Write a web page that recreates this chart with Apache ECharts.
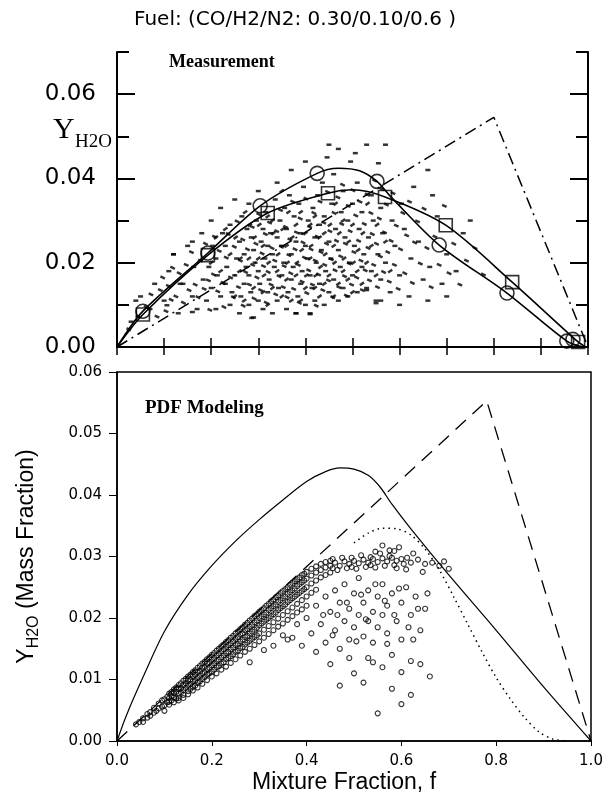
<!DOCTYPE html>
<html><head><meta charset="utf-8">
<script src="https://cdn.jsdelivr.net/npm/echarts@6/dist/echarts.min.js"></script>
<style>html,body{margin:0;padding:0;background:#fff}#c{width:607px;height:797px}</style>
</head><body><div id="c"></div>
<script>
// ---------- text ----------
const chartTitle = 'Fuel: (CO/H2/N2: 0.30/0.10/0.6 )';
const topPanelLabel = 'Measurement';
const bottomPanelLabel = 'PDF Modeling';
const xAxisTitle = 'Mixture Fraction, f';

// ---------- ticks ----------
const topYMajor = [0, 0.02, 0.04, 0.06];
const topYMinor = [0.01, 0.03, 0.05, 0.07];

// ---------- top panel (Measurement) ----------
const mixLineTop = [[0, 0], [0.8, 0.0545], [1.0, 0]];
const circleMarkers = [[0.055,0.0085],[0.193,0.0223],[0.304,0.0335],[0.425,0.0412],[0.552,0.0393],[0.684,0.0242],[0.828,0.0128],[0.955,0.0014],[0.968,0.0018]];
const squareMarkers = [[0.055,0.0077],[0.193,0.0218],[0.32,0.0318],[0.448,0.0365],[0.569,0.0356],[0.698,0.0289],[0.839,0.0154],[0.979,0.0012]];
const circleCurve = [[0,0],[0.055,0.0085],[0.193,0.0223],[0.304,0.0335],[0.425,0.0412],[0.47,0.0424],[0.515,0.0418],[0.552,0.0393],[0.58,0.0358],[0.684,0.0242],[0.828,0.0128],[0.955,0.0014],[0.99,0]];
const squareCurve = [[0,0],[0.055,0.0077],[0.193,0.0218],[0.32,0.0318],[0.448,0.0365],[0.5,0.0373],[0.569,0.0356],[0.698,0.0289],[0.839,0.0154],[0.979,0.0012],[0.995,0]];
const measDots = [
[0.03,0.006],[0.05,0.012],[0.07,0.009],[0.08,0.015],[0.1,0.011],[0.11,0.018],[0.12,0.022],[0.13,0.008],[0.14,0.015],[0.15,0.024],[0.16,0.012],[0.163,0.019],[0.17,0.009],[0.18,0.027],[0.183,0.016],
[0.19,0.011],[0.195,0.019],[0.2,0.014],[0.203,0.024],[0.2,0.03],[0.21,0.009],[0.213,0.017],[0.21,0.021],[0.22,0.012],[0.224,0.027],[0.22,0.033],[0.23,0.015],[0.233,0.019],[0.23,0.024],[0.24,0.01],[0.244,0.013],[0.24,0.029],[0.25,0.017],[0.254,0.021],[0.25,0.035],
[0.26,0.008],[0.263,0.012],[0.26,0.025],[0.265,0.031],[0.27,0.015],[0.274,0.019],[0.27,0.022],[0.276,0.028],[0.28,0.01],[0.284,0.013],[0.28,0.017],[0.285,0.026],[0.28,0.034],[0.29,0.007],[0.293,0.02],[0.29,0.023],[0.296,0.03],[0.3,0.011],[0.303,0.015],[0.3,0.018],[0.306,0.025],[0.3,0.037],[0.31,0.009],[0.314,0.021],[0.31,0.028],[0.316,0.032],[0.32,0.013],[0.323,0.016],[0.32,0.024],[0.326,0.027],
[0.33,0.008],[0.334,0.019],[0.33,0.022],[0.336,0.035],[0.34,0.011],[0.343,0.014],[0.34,0.026],[0.346,0.03],[0.34,0.039],[0.35,0.017],[0.354,0.02],[0.35,0.024],[0.356,0.033],[0.36,0.009],[0.363,0.013],[0.36,0.028],[0.366,0.036],[0.37,0.016],[0.374,0.019],[0.37,0.022],[0.376,0.031],[0.37,0.042],[0.38,0.008],[0.384,0.012],[0.38,0.025],[0.386,0.034],[0.39,0.015],[0.393,0.018],[0.39,0.027],[0.396,0.038],[0.4,0.01],[0.404,0.021],[0.4,0.024],[0.406,0.03],[0.4,0.044],
[0.41,0.008],[0.414,0.014],[0.41,0.017],[0.416,0.033],[0.42,0.011],[0.423,0.02],[0.42,0.026],[0.426,0.036],[0.43,0.015],[0.434,0.023],[0.43,0.029],[0.436,0.039],[0.44,0.01],[0.443,0.018],[0.44,0.031],[0.446,0.045],[0.45,0.013],[0.454,0.021],[0.45,0.025],[0.456,0.034],[0.45,0.048],[0.46,0.016],[0.464,0.028],[0.46,0.041],[0.47,0.011],[0.474,0.019],[0.47,0.023],[0.476,0.032],[0.47,0.047],[0.48,0.014],[0.484,0.026],[0.48,0.037],
[0.49,0.012],[0.494,0.02],[0.49,0.03],[0.496,0.044],[0.5,0.017],[0.504,0.024],[0.5,0.034],[0.506,0.046],[0.51,0.013],[0.514,0.028],[0.51,0.039],[0.52,0.019],[0.524,0.022],[0.52,0.032],[0.53,0.014],[0.534,0.026],[0.53,0.048],[0.54,0.018],[0.544,0.03],[0.54,0.036],[0.55,0.011],[0.554,0.022],[0.555,0.0436],[0.56,0.016],[0.564,0.027],[0.56,0.033],
[0.57,0.02],[0.57,0.048],[0.58,0.013],[0.584,0.03],[0.59,0.024],[0.6,0.017],[0.604,0.034],[0.61,0.028],[0.62,0.012],[0.624,0.021],[0.63,0.038],[0.64,0.025],[0.65,0.016],[0.66,0.011],[0.664,0.019],[0.66,0.042],[0.67,0.036],[0.68,0.031],[0.69,0.015],[0.7,0.022],[0.72,0.018],[0.735,0.027],[0.75,0.03],[0.6,0.01],[0.7,0.012],[0.04,0.011],[0.12,0.022],[0.134,0.015],[0.16,0.025],[0.106,0.0099],[0.16,0.0083],[0.286,0.0069],[0.38,0.008],[0.55,0.0104],[0.41,0.0078],[0.53,0.0135],[0.56,0.011]
];
const measDotsDense = [
[0.2,0.02],[0.21,0.026],[0.22,0.018],[0.23,0.028],[0.24,0.022],[0.25,0.012],[0.252,0.026],[0.26,0.018],[0.262,0.021],[0.27,0.011],[0.272,0.032],[0.28,0.021],[0.282,0.029],[0.29,0.014],[0.292,0.026],[0.3,0.021],[0.302,0.029],[0.31,0.013],[0.312,0.017],[0.31,0.024],[0.32,0.01],[0.322,0.02],[0.32,0.031],[0.33,0.014],[0.332,0.027],[0.33,0.03],[0.34,0.018],[0.342,0.022],[0.35,0.012],[0.352,0.028],[0.35,0.037],[0.36,0.016],[0.362,0.02],[0.36,0.024],[0.364,0.032],[0.37,0.011],[0.372,0.026],[0.38,0.017],[0.382,0.02],[0.38,0.029],[0.39,0.011],[0.392,0.023],[0.39,0.032],[0.4,0.014],[0.402,0.017],[0.4,0.027],[0.41,0.021],[0.412,0.024],[0.41,0.029],[0.42,0.014],[0.422,0.017],[0.42,0.031],[0.43,0.012],[0.432,0.019],[0.43,0.026],[0.44,0.015],[0.442,0.022],[0.44,0.027],[0.45,0.017],[0.452,0.029],[0.46,0.012],[0.462,0.02],[0.46,0.024],[0.464,0.034],[0.47,0.015],[0.472,0.027],[0.48,0.018],[0.482,0.021],[0.48,0.03],[0.49,0.016],[0.492,0.025],[0.5,0.013],[0.502,0.02],[0.5,0.029],[0.51,0.018],[0.512,0.023],[0.52,0.015],[0.522,0.027],[0.53,0.02],[0.532,0.034],[0.54,0.024],[0.55,0.017],[0.552,0.029],[0.57,0.025],[0.58,0.018]
];
const measDotsCore = [
[0.125,0.012],[0.132,0.0175],[0.141,0.0105],[0.147,0.0195],[0.153,0.0135],[0.158,0.0225],[0.166,0.0148],[0.172,0.0118],[0.177,0.0205],[0.185,0.0138],[0.188,0.0245],[0.194,0.0158],[0.197,0.0088],[0.205,0.0172],[0.207,0.0262],[0.214,0.0132],[0.217,0.0228],[0.225,0.0152],[0.227,0.0095],[0.232,0.0212],[0.236,0.0268],[0.241,0.0165],[0.247,0.0118],[0.249,0.0238],[0.255,0.0298],[0.258,0.0142],[0.262,0.0205],[0.267,0.0255],[0.268,0.0098],[0.273,0.0178],[0.277,0.0232],[0.281,0.0148],[0.287,0.0285],[0.288,0.0195],[0.291,0.0115],[0.295,0.0245],[0.297,0.0165],[0.301,0.0315],[0.305,0.0135],[0.308,0.0222],[0.311,0.0192],[0.315,0.0268],[0.317,0.0105],[0.321,0.0178],[0.324,0.0295],[0.327,0.0148],[0.329,0.0235],[0.335,0.0205],[0.337,0.0125],[0.339,0.0275],[0.344,0.0168],[0.347,0.0325],[0.349,0.0238],[0.353,0.0142],[0.355,0.0192],[0.358,0.0285],[0.361,0.0118],[0.365,0.0218],[0.367,0.0255],[0.369,0.0175],[0.373,0.0345],[0.375,0.0138],[0.378,0.0232],[0.381,0.0272],[0.385,0.0195],[0.387,0.0105],[0.389,0.0305],[0.393,0.0155],[0.395,0.0248],[0.398,0.0212],[0.401,0.0352],[0.403,0.0128],[0.407,0.0182],[0.409,0.0285],[0.412,0.0232],[0.415,0.0148],[0.418,0.0318],[0.421,0.0205],[0.423,0.0098],[0.425,0.0262],[0.428,0.0172],[0.431,0.0345],[0.433,0.0225],[0.437,0.0135],[0.439,0.0295],[0.441,0.0195],[0.445,0.0245],[0.447,0.0368],[0.449,0.0158],[0.452,0.0275],[0.455,0.0208],[0.458,0.0118],[0.461,0.0318],[0.463,0.0182],[0.466,0.0252],[0.469,0.0355],[0.471,0.0142],[0.475,0.0215],[0.477,0.0292],[0.479,0.0385],[0.483,0.0168],[0.485,0.0245],[0.487,0.0122],[0.491,0.0335],[0.493,0.0198],[0.495,0.0275],[0.498,0.0148],[0.501,0.0372],[0.503,0.0225],[0.507,0.0312],[0.509,0.0165],[0.513,0.0252],[0.516,0.0345],[0.518,0.0205],[0.521,0.0135],[0.525,0.0292],[0.527,0.0182],[0.531,0.0362],[0.533,0.0235],[0.536,0.0158],[0.539,0.0318],[0.542,0.0268],[0.545,0.0195],[0.547,0.0395],[0.551,0.0245],[0.553,0.0142],[0.557,0.0305],[0.559,0.0215],[0.562,0.0375],[0.566,0.0178],[0.568,0.0272],[0.572,0.0338],[0.575,0.0225],[0.578,0.0155],[0.582,0.0252],[0.586,0.0365],[0.589,0.0195],[0.593,0.0288],[0.597,0.0138],[0.602,0.0232],[0.607,0.0318],[0.611,0.0175],[0.615,0.0265],[0.621,0.0345],[0.627,0.0152],[0.632,0.0248],[0.638,0.0298],[0.644,0.0198],[0.652,0.0328],[0.658,0.0235],[0.667,0.0142],[0.675,0.0262],[0.684,0.0195],[0.695,0.0335],[0.705,0.0175],[0.715,0.0245],[0.728,0.0148],[0.742,0.0205],[0.76,0.0235],[0.778,0.0172],
[0.085,0.0072],[0.092,0.0135],[0.097,0.0165],[0.104,0.0085],[0.109,0.0145],[0.115,0.0112],[0.118,0.0188],[0.062,0.0095],[0.072,0.0125],[0.045,0.0072],[0.025,0.0042]
];

// ---------- bottom panel (PDF Modeling) ----------
const mixLineBottom = [[0, 0], [0.78, 0.0553], [1.0, 0]];
const equilCurve = [[0,0],[0.02,0.0042],[0.055,0.0104],[0.1,0.0178],[0.15,0.0238],[0.2,0.0285],[0.25,0.0325],[0.3,0.036],[0.35,0.0392],[0.4,0.0422],[0.44,0.0438],[0.47,0.0444],[0.5,0.0442],[0.53,0.0432],[0.555,0.0413],[0.58,0.0385],[0.62,0.0345],[0.7,0.027],[0.8,0.018],[0.9,0.0088],[1.0,0]];
const dottedCurve = [[0.5,0.0322],[0.53,0.0338],[0.56,0.0346],[0.59,0.0345],[0.62,0.0335],[0.65,0.0312],[0.68,0.0278],[0.71,0.0235],[0.74,0.019],[0.77,0.0145],[0.8,0.0103],[0.83,0.0068],[0.86,0.0038],[0.89,0.0015],[0.92,0.0003],[0.95,0]];
// band of PDF samples just below the mixing line: [x, [y values at that x]]
const pdfBand = [
[0.04,[.0027]],[0.047,[.0031]],[0.055,[.0037,.0031]],[0.064,[.0044,.0038]],[0.07,[.0047,.0041]],[0.078,[.0054,.0046]],[0.083,[.0049]],[0.088,[.0061,.0053]],[0.095,[.0066,.0056]],[0.1,[.0068,.0058,.0049]],[0.106,[.0072,.0063]],
[0.11,[.0077,.0070,.0064,.0059]],[0.115,[.0080,.0073,.0066]],[0.12,[.0084,.0078,.0071,.0063]],[0.125,[.0087,.0080,.0069]],[0.13,[.0091,.0085,.0077,.0070,.0066]],[0.135,[.0094,.0086,.0079]],[0.14,[.0098,.0091,.0083,.0075,.0070]],[0.145,[.0101,.0094,.0086]],[0.15,[.0105,.0098,.0090,.0081,.0076]],[0.155,[.0108,.0100,.0093,.0085]],[0.16,[.0112,.0105,.0097,.0088,.0082]],[0.165,[.0115,.0108,.0099,.0090]],[0.17,[.0119,.0112,.0103,.0095,.0087]],[0.175,[.0122,.0114,.0106,.0097]],[0.18,[.0126,.0119,.0110,.0101,.0093]],[0.185,[.0129,.0121,.0112,.0104]],[0.19,[.0133,.0126,.0117,.0108,.0099]],[0.195,[.0136,.0128,.0119,.0110]],
[0.2,[.0140,.0132,.0123,.0113,.0105]],[0.205,[.0143,.0135,.0126,.0116]],[0.21,[.0147,.0139,.0130,.0120,.0110]],[0.215,[.0150,.0142,.0132,.0122]],[0.22,[.0154,.0146,.0136,.0126,.0116]],[0.225,[.0157,.0149,.0139,.0128]],[0.23,[.0161,.0153,.0143,.0133,.0121]],[0.235,[.0164,.0156,.0145,.0135]],[0.24,[.0168,.0159,.0149,.0138,.0127]],[0.245,[.0171,.0162,.0152,.0141]],[0.25,[.0175,.0166,.0156,.0145,.0133]],[0.255,[.0178,.0169,.0158,.0147]],[0.26,[.0182,.0173,.0162,.0151,.0139]],[0.265,[.0185,.0175,.0165,.0153]],[0.27,[.0189,.0180,.0169,.0157,.0145]],[0.275,[.0192,.0182,.0171,.0160]],[0.28,[.0196,.0186,.0175,.0163,.0150]],[0.285,[.0199,.0189,.0178,.0166]],[0.29,[.0203,.0193,.0181,.0169,.0156]],[0.295,[.0206,.0196,.0184,.0172]],
[0.3,[.0210,.0200,.0188,.0175,.0162]],[0.305,[.0213,.0203,.0191]],[0.31,[.0216,.0206,.0194,.0181,.0168]],[0.315,[.0220,.0209,.0197]],[0.32,[.0223,.0213,.0200,.0187,.0174]],[0.325,[.0227,.0216,.0203]],[0.33,[.0230,.0219,.0206,.0193,.0180]],[0.335,[.0234,.0222,.0209]],[0.34,[.0237,.0226,.0213,.0199,.0186]],[0.345,[.0241,.0229,.0216]],[0.35,[.0244,.0232,.0219,.0205,.0191]],[0.355,[.0247,.0235,.0222]],[0.36,[.0250,.0239,.0226,.0211,.0197]],[0.365,[.0254,.0242,.0229]],[0.37,[.0257,.0245,.0232,.0217,.0203]],[0.375,[.0260,.0248,.0235]],[0.38,[.0263,.0252,.0238,.0223,.0209]],[0.385,[.0266,.0255,.0241]],[0.39,[.0270,.0258,.0244,.0229,.0214]],[0.395,[.0272,.0261,.0247]],
[0.4,[.0275,.0264,.0250,.0235,.0220]],[0.41,[.0280,.0269,.0256,.0241]],[0.42,[.0284,.0274,.0261,.0246]],[0.43,[.0288,.0278,.0266]],[0.44,[.0291,.0282,.0270]],[0.45,[.0293,.0285,.0274]]
];
const pdfPlateau = [
[0.46,0.029],[0.47,0.0285],[0.48,0.0292],[0.49,0.0288],[0.5,0.0293],[0.51,0.0289],[0.52,0.0295],[0.53,0.029],[0.54,0.0296],[0.55,0.0291],[0.56,0.0297],[0.57,0.0292],[0.58,0.0298],[0.59,0.0293],[0.6,0.0296],[0.465,0.0278],[0.485,0.0281],[0.505,0.028],[0.525,0.0283],[0.545,0.0282],[0.565,0.0285],[0.585,0.0286],[0.605,0.0288],[0.475,0.0298],[0.515,0.0302],[0.555,0.0305],[0.575,0.031],[0.595,0.0315],[0.56,0.0318],[0.62,0.029],[0.635,0.0295],[0.65,0.0288],[0.665,0.029],[0.68,0.0285],[0.625,0.0305],[0.645,0.0275],[0.69,0.0292],[0.7,0.028],
[0.455,0.0296],[0.495,0.0298],[0.535,0.0299],[0.575,0.0301],[0.455,0.0281],[0.495,0.0283],[0.535,0.0286],[0.59,0.0281],[0.612,0.0298],[0.61,0.0279],[0.545,0.0308],[0.585,0.0309]
];
const pdfScatterLow = [
[0.36,0.0165],[0.38,0.019],[0.39,0.0155],[0.4,0.02],[0.41,0.0175],[0.42,0.022],[0.42,0.0145],[0.43,0.019],[0.44,0.0235],[0.44,0.016],[0.45,0.021],[0.45,0.0125],[0.46,0.0245],[0.46,0.018],[0.47,0.015],[0.47,0.0225],[0.48,0.0195],[0.48,0.0255],[0.49,0.0165],[0.49,0.0215],[0.5,0.024],[0.5,0.0185],[0.5,0.011],[0.51,0.0205],[0.51,0.0265],[0.52,0.017],[0.52,0.0225],[0.53,0.0195],[0.53,0.0245],[0.53,0.0135],[0.54,0.021],[0.54,0.016],[0.55,0.0235],[0.55,0.0185],[0.56,0.0205],[0.56,0.0255],[0.57,0.0175],[0.57,0.022],[0.58,0.024],[0.58,0.014],[0.59,0.0195],[0.6,0.0225],[0.6,0.0165],[0.61,0.025],[0.62,0.0205],[0.62,0.013],[0.63,0.0235],[0.64,0.018],[0.65,0.0215],[0.66,0.0105],[0.6,0.006],[0.55,0.0045],[0.58,0.0085],[0.62,0.0075],[0.64,0.0125],[0.47,0.009],[0.52,0.0095],[0.56,0.012],
[0.435,0.0205],[0.455,0.0172],[0.465,0.0205],[0.485,0.0225],[0.505,0.0162],[0.515,0.0238],[0.525,0.0198],[0.545,0.0255],[0.565,0.0228],[0.585,0.0205],[0.595,0.0248],[0.615,0.0185],[0.635,0.0215],[0.655,0.024],[0.49,0.0135],[0.54,0.0128],[0.57,0.0158],[0.6,0.0112],[0.625,0.0165],[0.33,0.0155],[0.35,0.0172],[0.37,0.0168],[0.28,0.0128],[0.31,0.0148]
];
const pdfPoints = [];
pdfBand.forEach(([x, ys]) => ys.forEach(y => pdfPoints.push([x, y])));

// ---------- chart ----------
const K = '#000';
const noSplit = { show: false };
const chart = echarts.init(document.getElementById('c'), null, { renderer: 'canvas' });
const dotSeries = (data, size, rot) => ({ type: 'scatter', xAxisIndex: 0, yAxisIndex: 0, data, symbol: 'rect', symbolSize: size, symbolRotate: rot, itemStyle: { color: K }, silent: true, z: 1 });
const pdfSeries = data => ({ type: 'scatter', xAxisIndex: 1, yAxisIndex: 2, data, symbol: 'circle', symbolSize: 5, itemStyle: { color: 'rgba(0,0,0,0)', borderColor: K, borderWidth: 1.1 }, silent: true, z: 1 });
const option = {
  animation: false,
  backgroundColor: '#fff',
  textStyle: { fontFamily: 'DejaVu Sans', color: K },
  grid: [
    { left: 117, top: 52, width: 471, height: 295, outerBoundsMode: 'none' },
    { left: 117, top: 372, width: 474, height: 369, outerBoundsMode: 'none', show: true, borderColor: K, borderWidth: 1.5, backgroundColor: 'transparent' },
    { left: 117, top: 52, width: 471, height: 295, outerBoundsMode: 'none' }
  ],
  xAxis: [
    { gridIndex: 0, type: 'value', min: 0, max: 1, interval: 0.1,
      axisLine: { show: true, onZero: false, lineStyle: { color: K, width: 2 } },
      axisTick: { show: true, inside: true, length: 9, lineStyle: { color: K, width: 1.5 } },
      axisLabel: { show: false }, splitLine: noSplit },
    { gridIndex: 1, type: 'value', min: 0, max: 1, interval: 0.2,
      axisLine: { show: true, onZero: false, lineStyle: { color: K, width: 1.5 } },
      axisTick: { show: true, length: 5, lineStyle: { color: K, width: 1 } },
      axisLabel: { margin: 13, fontFamily: 'DejaVu Sans', fontSize: 15, color: K, formatter: v => v.toFixed(1) },
      name: xAxisTitle, nameLocation: 'middle', nameGap: 30,
      nameTextStyle: { fontFamily: 'Liberation Sans', fontSize: 23, color: K, padding: [0, 20, 0, 0] },
      splitLine: noSplit },
    { gridIndex: 2, type: 'value', min: 0, max: 1, interval: 0.1,
      axisLine: { show: false, onZero: false },
      axisTick: { show: true, inside: false, length: 8, lineStyle: { color: K, width: 1.5 } },
      axisLabel: { show: false }, splitLine: noSplit }
  ],
  yAxis: [
    { gridIndex: 0, type: 'value', position: 'left', min: 0, max: 0.07, interval: 0.01,
      axisLine: { show: true, onZero: false, lineStyle: { color: K, width: 2 } },
      axisTick: { show: true, inside: true, length: 18, customValues: topYMajor, lineStyle: { color: K, width: 2 } },
      axisLabel: { customValues: topYMajor, margin: 21, fontFamily: 'DejaVu Sans', fontSize: 23, color: K, formatter: v => v.toFixed(2) },
      splitLine: noSplit },
    { gridIndex: 0, type: 'value', position: 'right', min: 0, max: 0.07, interval: 0.01,
      axisLine: { show: true, onZero: false, lineStyle: { color: K, width: 2 } },
      axisTick: { show: true, inside: true, length: 18, customValues: topYMajor, lineStyle: { color: K, width: 2 } },
      axisLabel: { show: false }, splitLine: noSplit },
    { gridIndex: 1, type: 'value', position: 'left', min: 0, max: 0.06, interval: 0.01,
      axisLine: { show: true, onZero: false, lineStyle: { color: K, width: 1.5 } },
      axisTick: { show: true, length: 8, lineStyle: { color: K, width: 1 } },
      axisLabel: { margin: 15, fontFamily: 'DejaVu Sans', fontSize: 15, color: K, formatter: v => v.toFixed(2) },
      name: '{a|Y}{b|H2O}{a| (Mass Fraction)}', nameLocation: 'middle', nameRotate: 90, nameGap: 75,
      nameTextStyle: { rich: {
        a: { fontFamily: 'Liberation Sans', fontSize: 23, lineHeight: 30, color: K },
        b: { fontFamily: 'Liberation Sans', fontSize: 16, lineHeight: 14, verticalAlign: 'bottom', color: K }
      } },
      splitLine: noSplit },
    { gridIndex: 2, type: 'value', position: 'left', min: 0, max: 0.07, interval: 0.01,
      axisLine: { show: false, onZero: false },
      axisTick: { show: true, inside: true, length: 12, customValues: topYMinor, lineStyle: { color: K, width: 2 } },
      axisLabel: { show: false }, splitLine: noSplit },
    { gridIndex: 2, type: 'value', position: 'right', min: 0, max: 0.07, interval: 0.01,
      axisLine: { show: false, onZero: false },
      axisTick: { show: true, inside: true, length: 12, customValues: topYMinor, lineStyle: { color: K, width: 2 } },
      axisLabel: { show: false }, splitLine: noSplit }
  ],
  graphic: [
    { type: 'text', x: 134, y: 20, style: { text: chartTitle, fontFamily: 'DejaVu Sans', fontSize: 20, fill: K, align: 'left', verticalAlign: 'middle' } },
    { type: 'text', x: 169, y: 62, style: { text: topPanelLabel, fontFamily: 'Liberation Serif', fontWeight: 'bold', fontSize: 18, fill: K, align: 'left', verticalAlign: 'middle' } },
    { type: 'text', x: 145, y: 408, style: { text: bottomPanelLabel, fontFamily: 'Liberation Serif', fontWeight: 'bold', fontSize: 19, fill: K, align: 'left', verticalAlign: 'middle' } },
    { type: 'text', x: 53, y: 130, style: { text: 'Y', fontFamily: 'Liberation Serif', fontSize: 30, fill: K, align: 'left', verticalAlign: 'middle' } },
    { type: 'text', x: 75, y: 142, style: { text: 'H2O', fontFamily: 'Liberation Serif', fontSize: 19, fill: K, align: 'left', verticalAlign: 'middle' } }
  ],
  series: [
    dotSeries(measDots, [5, 2.5], 0),
    dotSeries(measDotsDense, [5, 2.5], 35),
    dotSeries(measDotsCore, [5, 2.5], -25),
    { type: 'line', xAxisIndex: 0, yAxisIndex: 0, data: mixLineTop, symbol: 'none', lineStyle: { color: K, width: 1.5, type: [12, 5, 2, 5] }, z: 2 },
    { type: 'line', xAxisIndex: 0, yAxisIndex: 0, data: circleCurve, symbol: 'none', smooth: 0.3, lineStyle: { color: K, width: 1.6 }, z: 2 },
    { type: 'line', xAxisIndex: 0, yAxisIndex: 0, data: squareCurve, symbol: 'none', smooth: 0.3, lineStyle: { color: K, width: 1.6 }, z: 2 },
    { type: 'scatter', xAxisIndex: 0, yAxisIndex: 0, data: circleMarkers, symbol: 'circle', symbolSize: 14, itemStyle: { color: 'rgba(0,0,0,0)', borderColor: K, borderWidth: 1.6 }, z: 3 },
    { type: 'scatter', xAxisIndex: 0, yAxisIndex: 0, data: squareMarkers, symbol: 'rect', symbolSize: 13, itemStyle: { color: 'rgba(0,0,0,0)', borderColor: K, borderWidth: 1.6 }, z: 3 },
    pdfSeries(pdfPoints),
    pdfSeries(pdfPlateau),
    pdfSeries(pdfScatterLow),
    { type: 'line', xAxisIndex: 1, yAxisIndex: 2, data: mixLineBottom, symbol: 'none', lineStyle: { color: K, width: 1.3, type: [14, 9] }, z: 2 },
    { type: 'line', xAxisIndex: 1, yAxisIndex: 2, data: equilCurve, symbol: 'none', smooth: 0.3, lineStyle: { color: K, width: 1.2 }, z: 2 },
    { type: 'line', xAxisIndex: 1, yAxisIndex: 2, data: dottedCurve, symbol: 'none', smooth: 0.3, lineStyle: { color: K, width: 1.5, type: [1.5, 4] }, z: 2 }
  ]
};
chart.setOption(option);
</script>
</body></html>
